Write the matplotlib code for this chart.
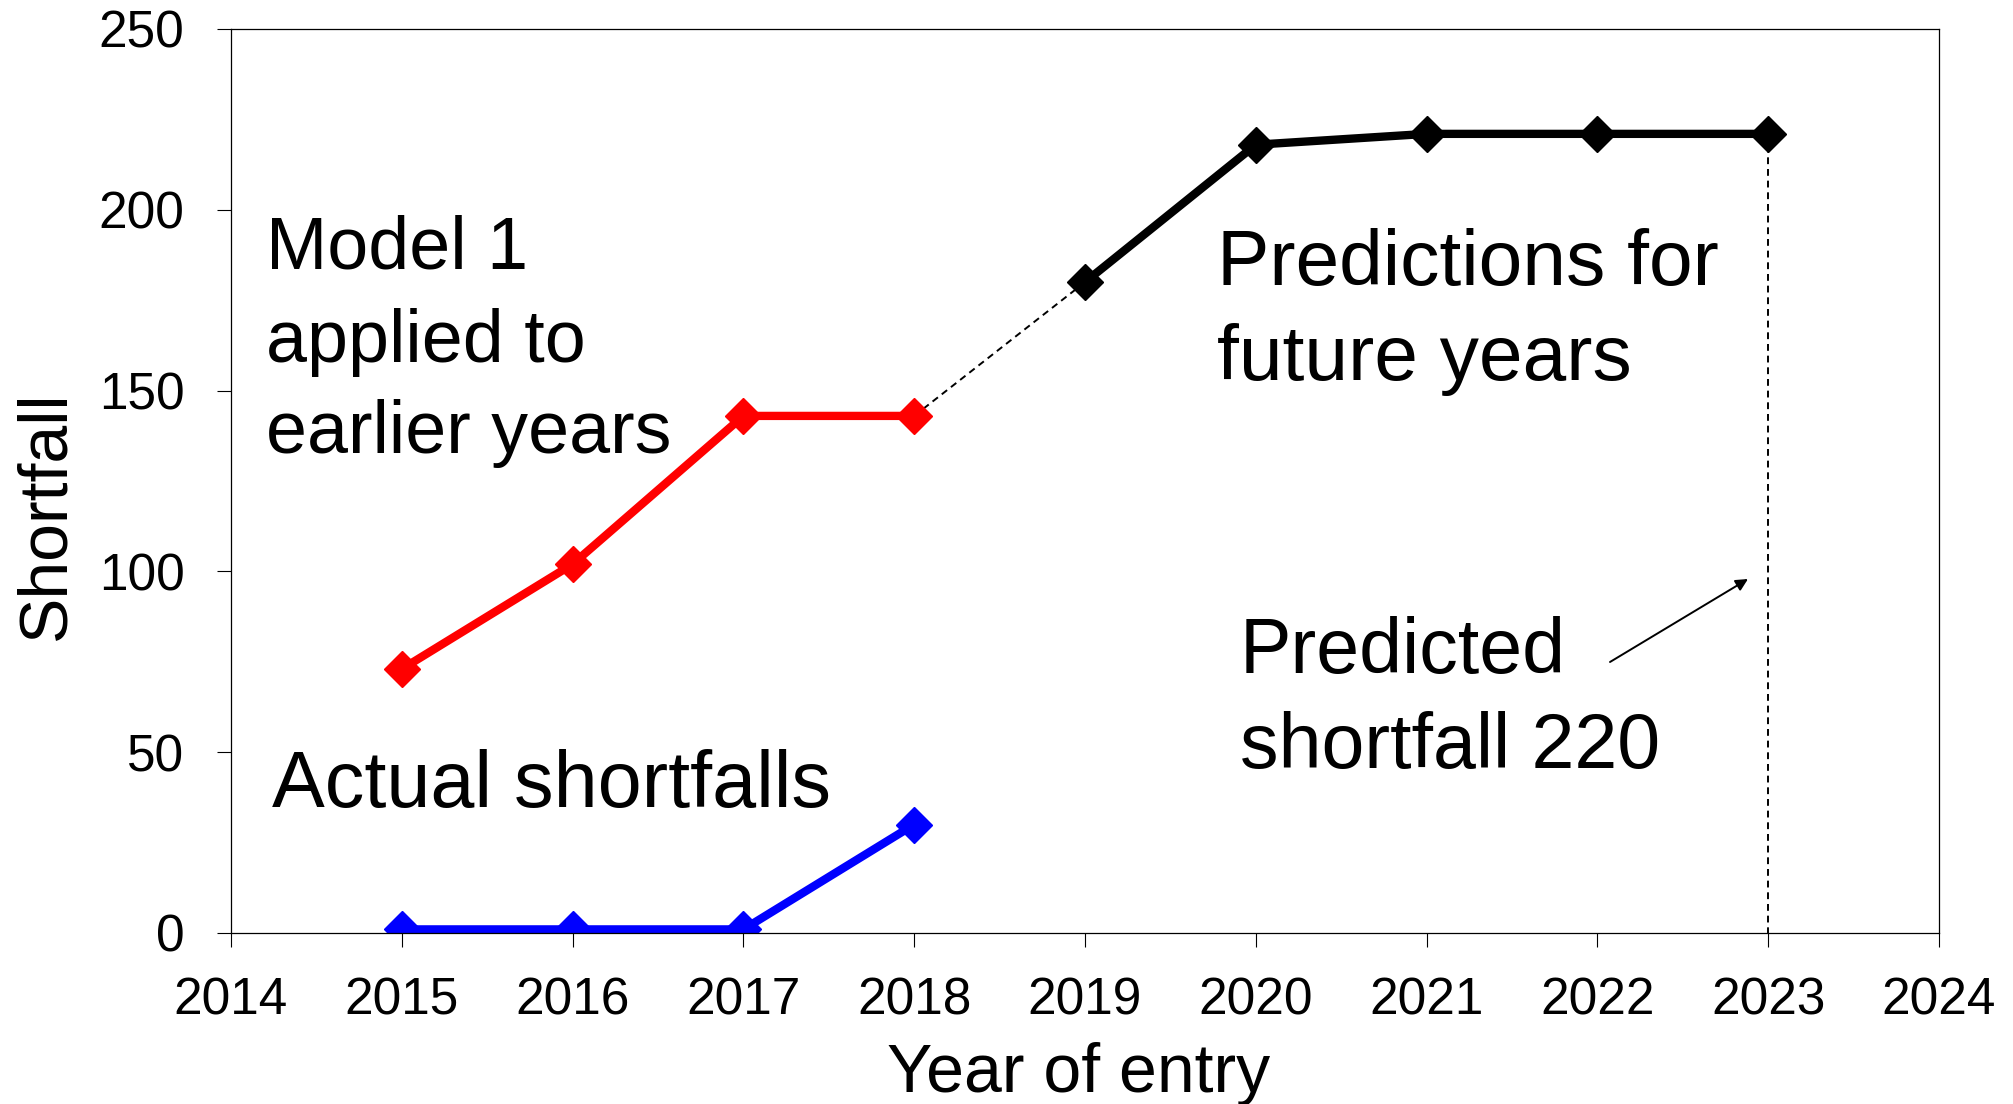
import numpy as np
import matplotlib
matplotlib.use("Agg")
import matplotlib.pyplot as plt

plt.rcParams['font.family'] = ['Liberation Sans', 'DejaVu Sans']

# data
model_years = [2015, 2016, 2017, 2018]
model_vals = [73, 102, 143, 143]
actual_years = [2015, 2016, 2017, 2018]
actual_vals = [1, 1, 1, 30]
pred_years = [2019, 2020, 2021, 2022, 2023]
pred_vals = [180, 218, 221, 221, 221]
x_ticks = list(range(2014, 2025))
y_ticks = [0, 50, 100, 150, 200, 250]

W, H = 2013, 1104
fig = plt.figure(figsize=(W / 100, H / 100), dpi=100)
ax = fig.add_axes([231 / W, 1 - 933 / H, 1708 / W, 904 / H])

line_kw = dict(lw=6, marker='D', ms=18, mew=1, solid_joinstyle='round')
ax.plot(model_years, model_vals, color='#ff0000', **line_kw)
ax.plot(actual_years, actual_vals, color='#0000ff', **line_kw)
ax.plot(pred_years, pred_vals, color='black', **line_kw)

# thin dashed links
ax.plot([model_years[-1], pred_years[0]], [model_vals[-1], pred_vals[0]],
        color='black', lw=1.4, dashes=(3.5, 2.5), zorder=1)
ax.plot([pred_years[-1], pred_years[-1]], [pred_vals[-1], 0],
        color='black', lw=1.4, dashes=(3.5, 2.5), zorder=1)

ax.set_xlim(2014, 2024)
ax.set_ylim(0, 250)
ax.set_xticks(x_ticks)
ax.set_yticks(y_ticks)
ax.tick_params(axis='x', direction='out', length=10, width=0.8, labelsize=37, pad=21)
ax.tick_params(axis='y', direction='out', length=10, width=0.8, labelsize=37, pad=23.5)
for s in ax.spines.values():
    s.set_linewidth(0.9)

ax.set_xlabel('Year of entry', fontsize=49)
ax.set_ylabel('Shortfall', fontsize=49)
ax.xaxis.set_label_coords(0.496, -0.121)
ax.yaxis.set_label_coords(-0.0895, 0.462)


def px(x, y):
    # figure pixel (from top-left) -> data coords
    xd = 2014 + (x - 231) / 1708 * 10
    yd = (933 - y) / 904 * 250
    return xd, yd


def block(lines, x, baselines, size):
    for txt, b in zip(lines, baselines):
        ax.text(*px(x, b), txt, fontsize=size, ha='left', va='baseline')


block(['Model 1', 'applied to', 'earlier years'], 266, [268, 362, 453], 53)
block(['Actual shortfalls'], 272, [807], 57)
block(['Predictions for', 'future years'], 1217, [285, 380], 56.5)
block(['Predicted', 'shortfall 220'], 1240, [673, 768], 55.5)

ax.annotate('', xy=px(1748, 579), xytext=px(1610, 662),
            arrowprops=dict(arrowstyle='-|>', color='black', lw=1.4,
                            mutation_scale=18, shrinkA=0, shrinkB=0))

fig.savefig('out.png', dpi=100)
